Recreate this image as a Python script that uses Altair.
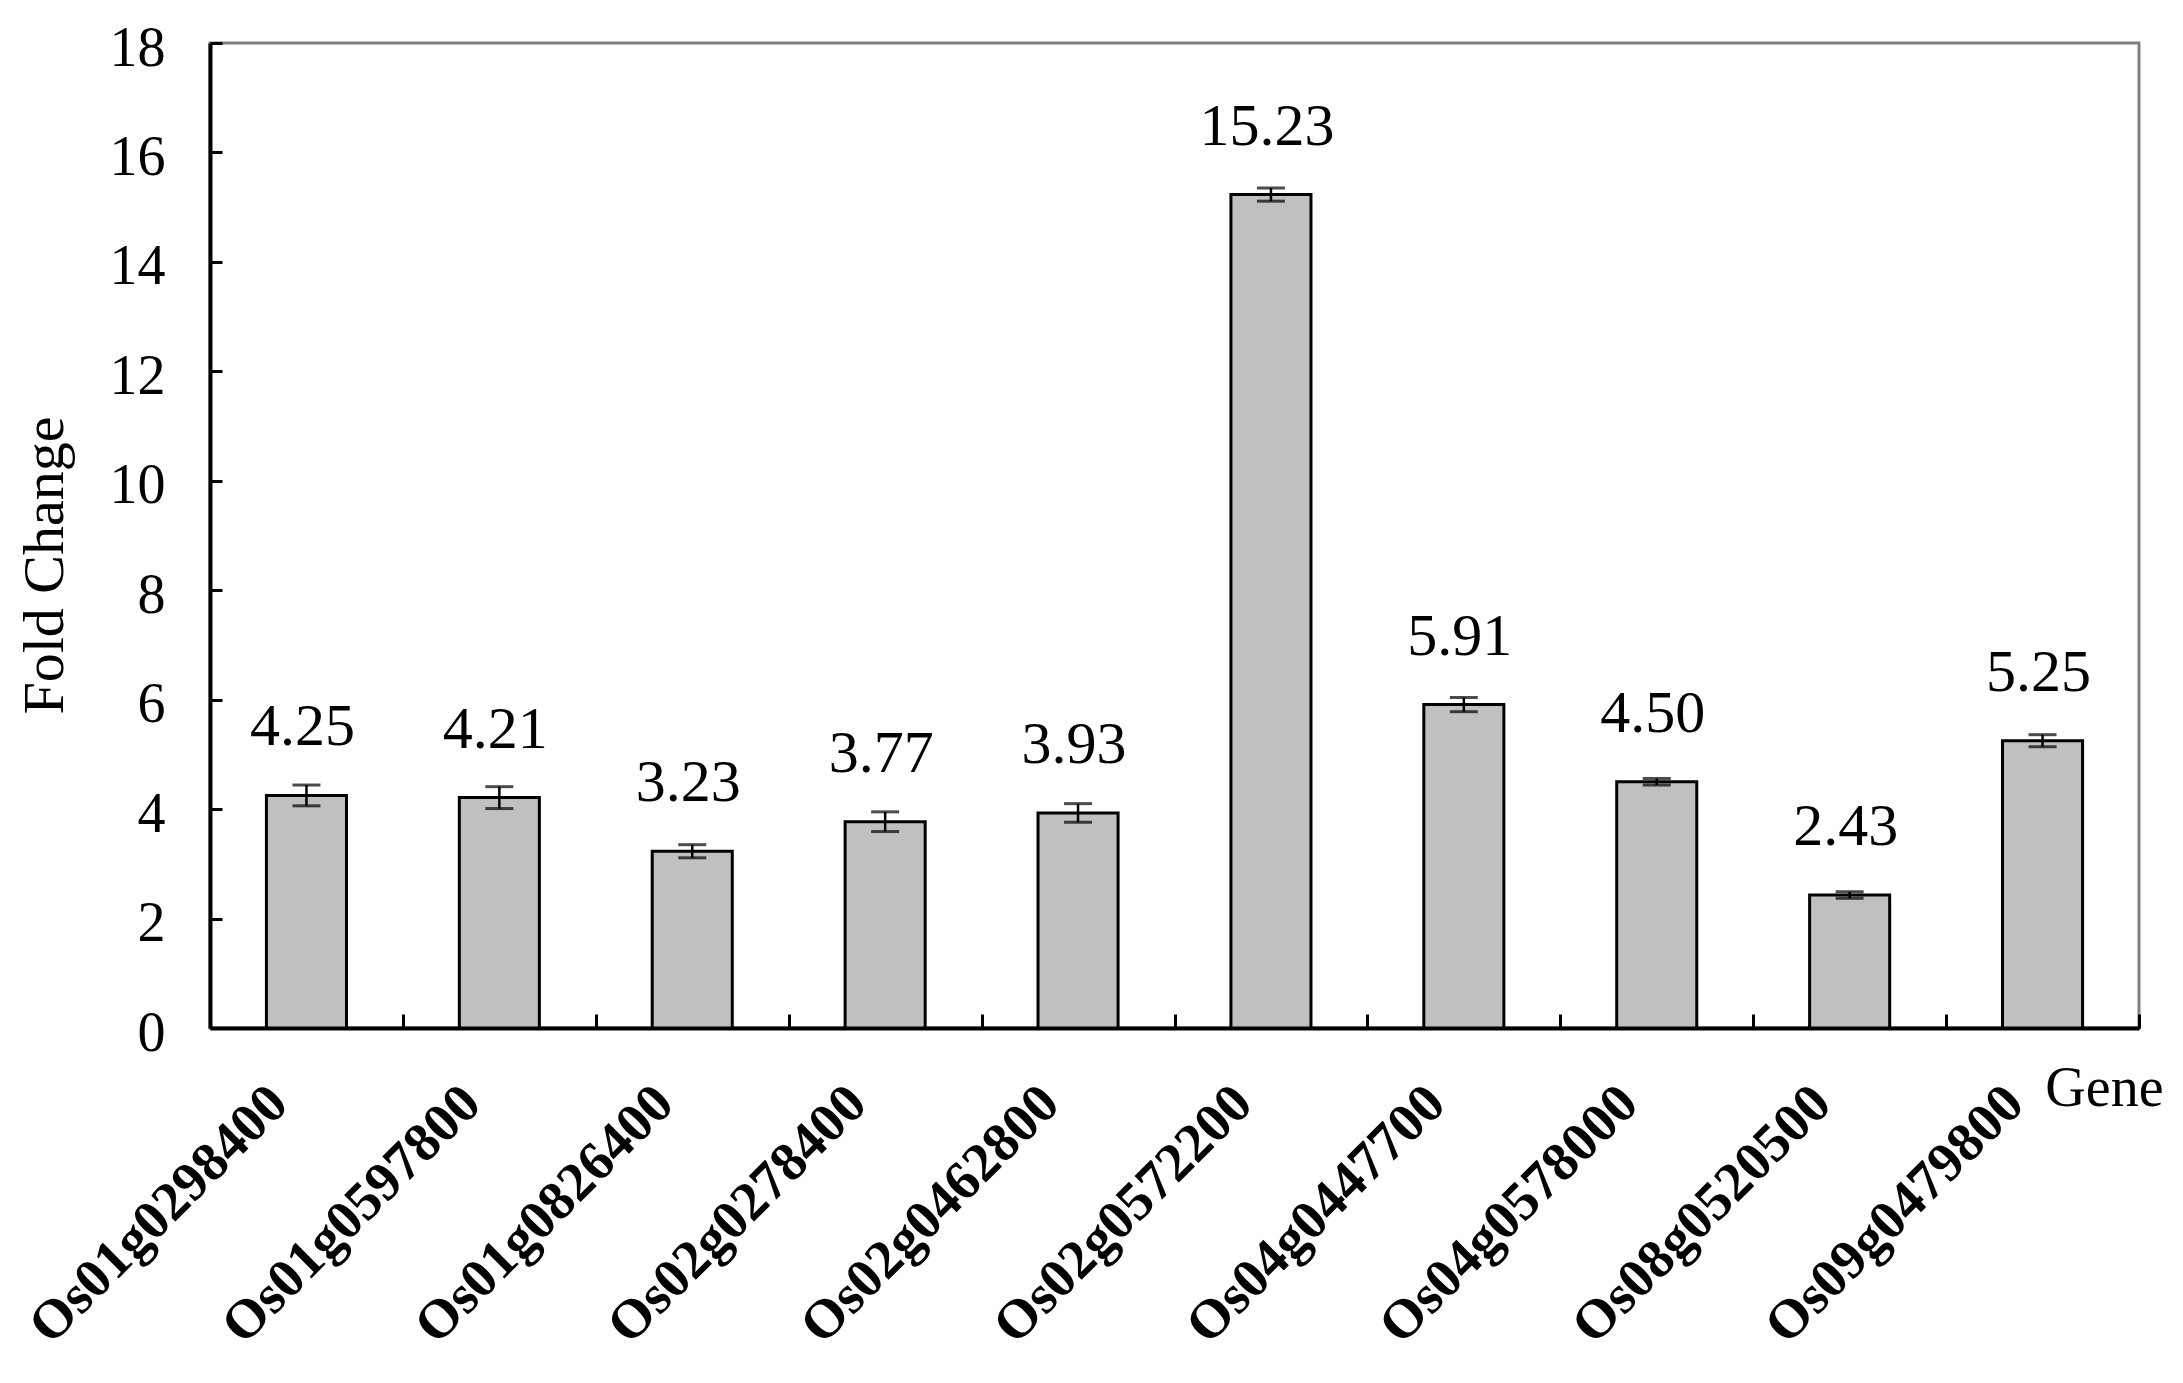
import altair as alt
import pandas as pd

genes = ["Os01g0298400", "Os01g0597800", "Os01g0826400", "Os02g0278400",
         "Os02g0462800", "Os02g0572200", "Os04g0447700", "Os04g0578000",
         "Os08g0520500", "Os09g0479800"]
values = [4.25, 4.21, 3.23, 3.77, 3.93, 15.23, 5.91, 4.50, 2.43, 5.25]
errors = [0.19, 0.20, 0.12, 0.18, 0.17, 0.12, 0.13, 0.06, 0.06, 0.11]
y_ticks = [0, 2, 4, 6, 8, 10, 12, 14, 16, 18]

df = pd.DataFrame({"gene": genes, "value": values, "err": errors})
df["lo"] = df["value"] - df["err"]
df["hi"] = df["value"] + df["err"]
df["label"] = [f"{v:.2f}" for v in values]

W, H = 1929, 985
FONT = "Liberation Serif"
P_IN = 0.585

x_scale = alt.Scale(domain=genes, paddingInner=P_IN, paddingOuter=P_IN / 2)
y_scale = alt.Scale(domain=[0, 18], nice=False, zero=True)

x_main = alt.X("gene:N", scale=x_scale, axis=alt.Axis(
    title="Gene", titleFont=FONT, titleFontSize=56, titleFontWeight="normal",
    titleColor="black", titleX=1953, titleY=77, titleAlign="right",
    titleBaseline="alphabetic", titleAngle=0,
    labelAngle=315, labelAlign="right", labelBaseline="middle",
    labelFont=FONT, labelFontSize=55, labelFontWeight="bold", labelColor="black",
    labelPadding=66, labelOffset=-28, labelLimit=1000, labelOverlap=False,
    ticks=False, tickSize=0, domainColor="black", domainWidth=4, grid=False))

y_main = alt.Y("value:Q", scale=y_scale, axis=alt.Axis(
    title="Fold Change", titleFont=FONT, titleFontSize=58, titleFontWeight="normal",
    titleColor="black", titleX=-148, titleY=522, titleAngle=270,
    titleAlign="center", titleBaseline="alphabetic",
    values=y_ticks, labelFont=FONT, labelFontSize=56, labelColor="black",
    labelPadding=45, labelOffset=5, ticks=False, tickSize=0,
    domainColor="black", domainWidth=4, grid=False))

bars = alt.Chart(df).mark_bar(fill="#c0c0c0", stroke="black", strokeWidth=3).encode(
    x=x_main, y=y_main)

inner_ticks = alt.Chart(df).mark_bar(opacity=0).encode(
    x=alt.X("gene:N", scale=x_scale, axis=alt.Axis(
        orient="top", offset=-H, labels=False, domain=False, title=None,
        ticks=True, tickSize=14, tickWidth=3, tickColor="black",
        bandPosition=1, tickOffset=W / 10 * P_IN / 2, grid=False)),
    y=alt.Y("value:Q", scale=y_scale, axis=alt.Axis(
        orient="right", offset=-W, values=y_ticks, labels=False, domain=False,
        title=None, ticks=True, tickSize=12, tickWidth=3, tickColor="black",
        grid=False)))

err_line = alt.Chart(df).mark_rule(color="black", strokeWidth=2.5).encode(
    x=alt.X("gene:N", scale=x_scale, axis=None),
    y=alt.Y("lo:Q", scale=y_scale, axis=None), y2="hi:Q")

cap_lo = alt.Chart(df).mark_tick(color="black", thickness=3, size=28).encode(
    x=alt.X("gene:N", scale=x_scale, axis=None),
    y=alt.Y("lo:Q", scale=y_scale, axis=None))

cap_hi = alt.Chart(df).mark_tick(color="black", thickness=3, size=28).encode(
    x=alt.X("gene:N", scale=x_scale, axis=None),
    y=alt.Y("hi:Q", scale=y_scale, axis=None))

labels = alt.Chart(df).mark_text(font=FONT, fontSize=60, baseline="alphabetic",
                                 dy=-50, dx=-4, color="black").encode(
    x=alt.X("gene:N", scale=x_scale, axis=None),
    y=alt.Y("value:Q", scale=y_scale, axis=None),
    text="label:N")

chart = alt.layer(bars, inner_ticks, err_line, cap_lo, cap_hi, labels).resolve_axis(
    x="independent", y="independent"
).properties(
    width=W, height=H,
    padding={"left": 202, "top": 35, "right": 36, "bottom": 345},
    autosize=alt.AutoSizeParams(type="none"),
).configure_view(stroke="#808080", strokeWidth=3)

chart.save("out.html", embed_options={"renderer": "svg", "actions": False})
